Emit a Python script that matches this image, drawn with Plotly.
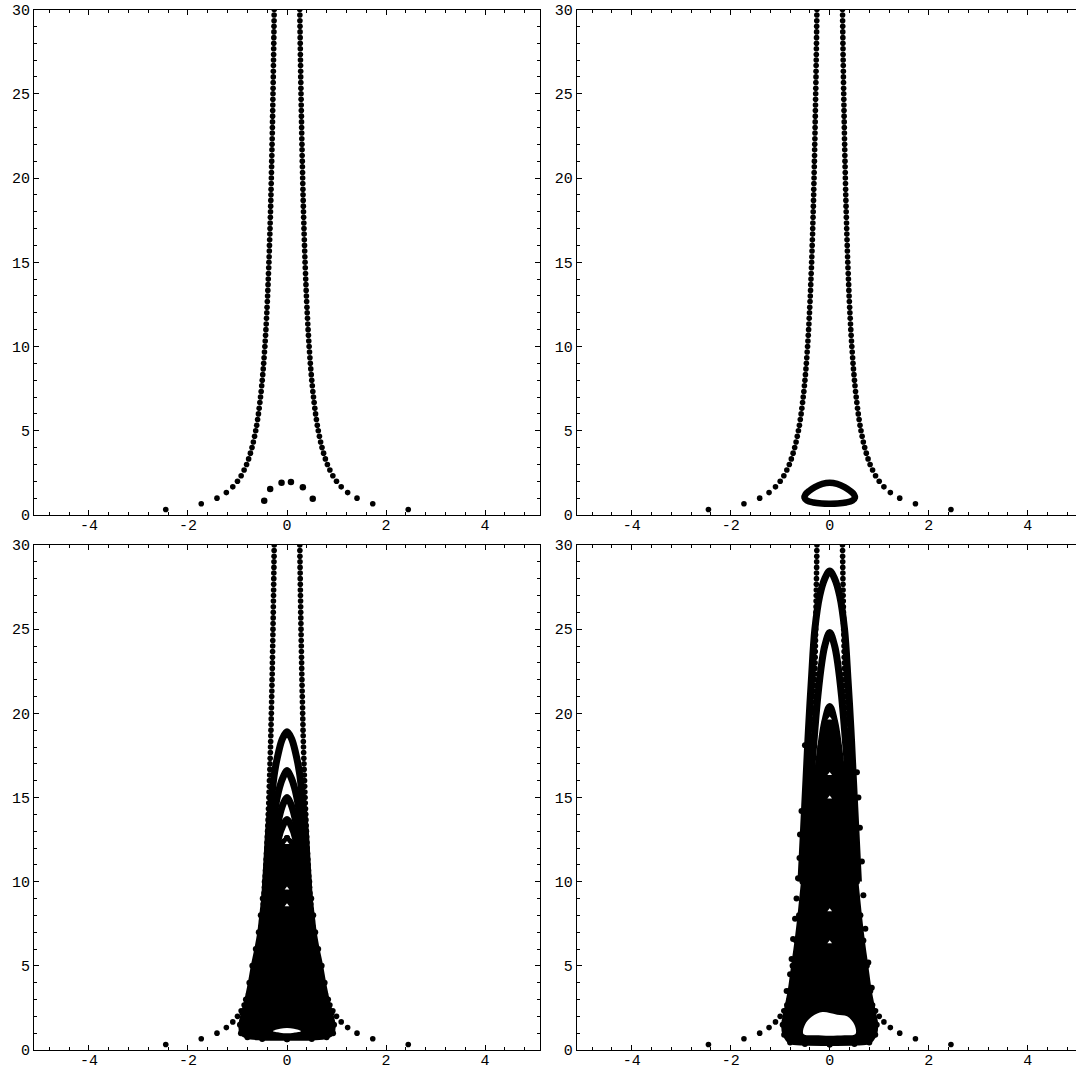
import plotly.graph_objects as go

# ---------------- data ----------------
# outer curve (right branch; left branch is its mirror image)
SEP_Y = [0.33, 0.67, 1.0, 1.33, 1.67, 2.0, 2.33, 2.67, 3.0, 3.33, 3.67, 4.0, 4.33, 4.67, 5.0,
         5.33, 5.67, 6.0, 6.33, 6.67, 7.0, 7.33, 7.67, 8.0, 8.33, 8.67, 9.0, 9.33, 9.67, 10.0,
         10.33, 10.67, 11.0, 11.33, 11.67, 12.0, 12.33, 12.67, 13.0, 13.33, 13.67, 14.0, 14.33, 14.67, 15.0,
         15.33, 15.67, 16.0, 16.33, 16.67, 17.0, 17.33, 17.67, 18.0, 18.33, 18.67, 19.0, 19.33, 19.67, 20.0,
         20.33, 20.67, 21.0, 21.33, 21.67, 22.0, 22.33, 22.67, 23.0, 23.33, 23.67, 24.0, 24.33, 24.67, 25.0,
         25.33, 25.67, 26.0, 26.33, 26.67, 27.0, 27.33, 27.67, 28.0, 28.33, 28.67, 29.0, 29.33, 29.67, 30.0]
SEP_X = [2.449, 1.732, 1.414, 1.225, 1.095, 1.000, 0.926, 0.866, 0.816, 0.775,
         0.739, 0.707, 0.679, 0.655, 0.632, 0.612, 0.594, 0.577, 0.562, 0.548,
         0.535, 0.522, 0.511, 0.500, 0.490, 0.480, 0.471, 0.463, 0.455, 0.447,
         0.440, 0.433, 0.426, 0.420, 0.414, 0.408, 0.403, 0.397, 0.392, 0.387,
         0.383, 0.378, 0.374, 0.369, 0.365, 0.361, 0.357, 0.354, 0.350, 0.346,
         0.343, 0.340, 0.336, 0.333, 0.330, 0.327, 0.324, 0.322, 0.319, 0.316,
         0.314, 0.311, 0.309, 0.306, 0.304, 0.302, 0.299, 0.297, 0.295, 0.293,
         0.291, 0.289, 0.287, 0.285, 0.283, 0.281, 0.279, 0.277, 0.276, 0.274,
         0.272, 0.270, 0.269, 0.267, 0.266, 0.264, 0.263, 0.261, 0.260, 0.258]

# panel 1: few inner points
P1_IN_X = [-0.46, -0.34, -0.11, 0.08, 0.32, 0.52]
P1_IN_Y = [0.85, 1.54, 1.92, 1.96, 1.64, 0.97]

# panel 2: closed loop
P2_LOOP_X = [0, 0.15, 0.30, 0.41, 0.49, 0.51, 0.46, 0.33, 0.16, 0, -0.16, -0.33, -0.46, -0.51, -0.49, -0.41, -0.30, -0.15, 0]
P2_LOOP_Y = [1.92, 1.85, 1.66, 1.44, 1.22, 1.03, 0.86, 0.74, 0.68, 0.67, 0.68, 0.74, 0.86, 1.03, 1.22, 1.44, 1.66, 1.85, 1.92]

# panel 3: dense core (right half outline, top to bottom) and arches (right half)
P3_CORE_Y = [12.6, 12.3, 12.0, 11.0, 10.0, 9.0, 8.0, 7.0, 6.0, 5.0, 4.0, 3.0, 2.2, 1.5, 1.0, 0.75, 0.66, 0.64]
P3_CORE_X = [0.0, 0.15, 0.30, 0.40, 0.45, 0.49, 0.53, 0.57, 0.63, 0.70, 0.76, 0.83, 0.90, 0.95, 0.93, 0.80, 0.50, 0.0]
P3_ARCH_Y = [[9, 11, 13, 15, 16.5, 17.7, 18.5, 18.9],
             [9, 11, 13, 14.5, 15.6, 16.2, 16.6],
             [9, 11, 12.5, 13.8, 14.6, 15.0],
             [9, 11, 12.5, 13.3, 13.7]]
P3_ARCH_X = [[0.45, 0.41, 0.37, 0.31, 0.25, 0.17, 0.09, 0.0],
             [0.40, 0.36, 0.30, 0.23, 0.15, 0.08, 0.0],
             [0.36, 0.31, 0.25, 0.16, 0.08, 0.0],
             [0.32, 0.26, 0.18, 0.09, 0.0]]
P3_HOLE_X = [-0.28, -0.14, 0, 0.14, 0.28, 0.14, 0, -0.14, -0.28]
P3_HOLE_Y = [1.12, 1.26, 1.30, 1.26, 1.12, 1.03, 1.0, 1.03, 1.12]
P3_SPECK_Y = [9.6, 8.6, 12.3]

# panel 4
P4_CORE_Y = [20.2, 19.5, 18.0, 16.0, 14.0, 12.0, 10.0, 8.0, 6.5, 5.0, 3.5, 2.3, 1.5, 0.9, 0.45, 0.35, 0.33]
P4_CORE_X = [0.0, 0.10, 0.19, 0.28, 0.38, 0.47, 0.55, 0.62, 0.68, 0.75, 0.82, 0.90, 0.95, 0.92, 0.80, 0.50, 0.0]
P4_ARCH_Y = [[10, 13, 16, 19, 22, 25, 27, 28, 28.45],
             [10, 13, 16, 19, 21, 23, 24, 24.8],
             [10, 13, 16, 18, 19.5, 20.4]]
P4_ARCH_X = [[0.58, 0.53, 0.48, 0.43, 0.37, 0.30, 0.20, 0.10, 0.0],
             [0.52, 0.45, 0.38, 0.30, 0.24, 0.16, 0.10, 0.0],
             [0.45, 0.36, 0.26, 0.18, 0.10, 0.0]]
P4_HOLE_X = [-0.53, -0.50, -0.35, -0.15, 0.0, 0.15, 0.35, 0.50, 0.52, 0.30, 0.0, -0.30, -0.53]
P4_HOLE_Y = [0.95, 1.50, 2.00, 2.25, 2.20, 2.10, 2.00, 1.50, 0.95, 0.88, 0.85, 0.88, 0.95]
P4_SPECK_Y = [19.7, 16.4, 15.0, 8.3, 6.4]
# loose points on the ragged edge of the panel-4 cloud
P4_EDGE_X = [-0.50, -0.47, -0.57, -0.60, -0.61, -0.64, -0.67, -0.70, -0.74, -0.77, -0.80, -0.87,
             0.55, 0.58, 0.61, 0.65, 0.68, 0.72, 0.78, 0.85]
P4_EDGE_Y = [18.1, 16.1, 14.2, 12.8, 11.4, 10.2, 9.0, 7.8, 6.6, 5.4, 4.5, 3.5,
             16.5, 15.0, 13.2, 11.2, 9.2, 7.2, 5.2, 3.7]

X_TICKS = [-4, -2, 0, 2, 4]
X_TICK_TEXT = ["-4", "-2", "0", "2", "4"]
Y_TICKS = [0, 5, 10, 15, 20, 25, 30]
Y_TICK_TEXT = ["0", "5", "10", "15", "20", "25", "30"]

# ---------------- figure ----------------
W, H = 1076, 1072
fig = go.Figure()
BLACK = "black"


def ax(n):
    return ("x" if n == 1 else f"x{n}"), ("y" if n == 1 else f"y{n}")


def add_sep(n):
    xa, ya = ax(n)
    fig.add_trace(go.Scatter(x=SEP_X + [-v for v in SEP_X], y=SEP_Y + SEP_Y, mode="markers",
                             marker=dict(size=5.6, color=BLACK, line=dict(width=0)),
                             xaxis=xa, yaxis=ya, hoverinfo="skip"))


def mirror_outline(xs, ys):
    px = xs + [-v for v in xs[::-1]]
    py = ys + ys[::-1]
    return px, py


def add_core(n, xs, ys):
    xa, ya = ax(n)
    px, py = mirror_outline(xs, ys)
    fig.add_trace(go.Scatter(x=px, y=py, mode="lines+markers", fill="toself", fillcolor=BLACK,
                             line=dict(color=BLACK, width=3, shape="spline"),
                             marker=dict(size=6, color=BLACK),
                             xaxis=xa, yaxis=ya, hoverinfo="skip"))


def add_arch(n, xs, ys, width=7):
    xa, ya = ax(n)
    px = [-v for v in xs] + xs[::-1][1:]
    py = ys + ys[::-1][1:]
    fig.add_trace(go.Scatter(x=px, y=py, mode="lines",
                             line=dict(color=BLACK, width=width, shape="spline"),
                             xaxis=xa, yaxis=ya, hoverinfo="skip"))


def add_white(n, xs, ys):
    xa, ya = ax(n)
    fig.add_trace(go.Scatter(x=xs, y=ys, mode="lines", fill="toself", fillcolor="white",
                             line=dict(color="white", width=0, shape="spline"),
                             xaxis=xa, yaxis=ya, hoverinfo="skip"))


def add_specks(n, ys):
    xa, ya = ax(n)
    fig.add_trace(go.Scatter(x=[0] * len(ys), y=ys, mode="markers",
                             marker=dict(symbol="triangle-up", size=4, color="white", line=dict(width=0)),
                             xaxis=xa, yaxis=ya, hoverinfo="skip"))


# panel 1
add_sep(1)
fig.add_trace(go.Scatter(x=P1_IN_X, y=P1_IN_Y, mode="markers",
                         marker=dict(size=6.5, color=BLACK, line=dict(width=0)),
                         xaxis="x", yaxis="y", hoverinfo="skip"))
# panel 2
add_sep(2)
fig.add_trace(go.Scatter(x=P2_LOOP_X, y=P2_LOOP_Y, mode="lines",
                         line=dict(color=BLACK, width=6.5, shape="spline"),
                         xaxis="x2", yaxis="y2", hoverinfo="skip"))
# panel 3
add_core(3, P3_CORE_X, P3_CORE_Y)
add_white(3, P3_HOLE_X, P3_HOLE_Y)
for axx, ayy in zip(P3_ARCH_X, P3_ARCH_Y):
    add_arch(3, axx, ayy)
add_sep(3)
add_specks(3, P3_SPECK_Y)
# panel 4
add_core(4, P4_CORE_X, P4_CORE_Y)
add_white(4, P4_HOLE_X, P4_HOLE_Y)
for axx, ayy in zip(P4_ARCH_X, P4_ARCH_Y):
    add_arch(4, axx, ayy)
add_sep(4)
fig.add_trace(go.Scatter(x=P4_EDGE_X, y=P4_EDGE_Y, mode="markers",
                         marker=dict(size=6, color=BLACK, line=dict(width=0)),
                         xaxis="x4", yaxis="y4", hoverinfo="skip"))
add_specks(4, P4_SPECK_Y)

# ---------------- axes ----------------
TOP = [1 - 515 / H, 1 - 9.5 / H]
BOT = [1 - 1050 / H, 1 - 545 / H]
LEFT = [34 / W, 540 / W]
RIGHT = [576.7 / W, 1.0]
SCALE = 506 / 10.22
RIGHT_RANGE = [-5.11, -5.11 + (W - 576.7) / SCALE]

font = dict(family="Liberation Mono, Courier New, monospace", size=15, color="black")


def xaxis_cfg(domain, rng, anchor):
    return dict(domain=domain, range=rng, anchor=anchor, tickmode="array", tickvals=X_TICKS,
                ticktext=X_TICK_TEXT, ticks="inside", ticklen=5, tickwidth=1, tickcolor=BLACK,
                showline=True, linecolor=BLACK, linewidth=1, mirror="ticks", showgrid=False,
                zeroline=False, tickfont=font, ticklabelstandoff=-4, automargin=False,
                minor=dict(tickmode="linear", tick0=0, dtick=0.4, ticks="inside", ticklen=3,
                           tickcolor=BLACK, showgrid=False))


def yaxis_cfg(domain, anchor, mirror):
    return dict(domain=domain, range=[0, 30], anchor=anchor, tickmode="array", tickvals=Y_TICKS,
                ticktext=Y_TICK_TEXT, ticks="inside", ticklen=5, tickwidth=1, tickcolor=BLACK,
                showline=True, linecolor=BLACK, linewidth=1, mirror=mirror, showgrid=False,
                zeroline=False, tickfont=font, ticklabelstandoff=0, automargin=False,
                minor=dict(tickmode="linear", tick0=0, dtick=1, ticks="inside", ticklen=3,
                           tickcolor=BLACK, showgrid=False))


fig.update_layout(
    template="none",
    width=W, height=H, margin=dict(l=0, r=0, t=0, b=0, autoexpand=False),
    paper_bgcolor="white", plot_bgcolor="white", showlegend=False,
    xaxis=xaxis_cfg(LEFT, [-5.11, 5.11], "y"),
    yaxis=yaxis_cfg(TOP, "x", "ticks"),
    xaxis2=xaxis_cfg(RIGHT, RIGHT_RANGE, "y2"),
    yaxis2=yaxis_cfg(TOP, "x2", False),
    xaxis3=xaxis_cfg(LEFT, [-5.11, 5.11], "y3"),
    yaxis3=yaxis_cfg(BOT, "x3", "ticks"),
    xaxis4=xaxis_cfg(RIGHT, RIGHT_RANGE, "y4"),
    yaxis4=yaxis_cfg(BOT, "x4", False),
)

fig.write_html("out.html", config={"displayModeBar": False},
               post_script="document.body.style.margin='0px';")
